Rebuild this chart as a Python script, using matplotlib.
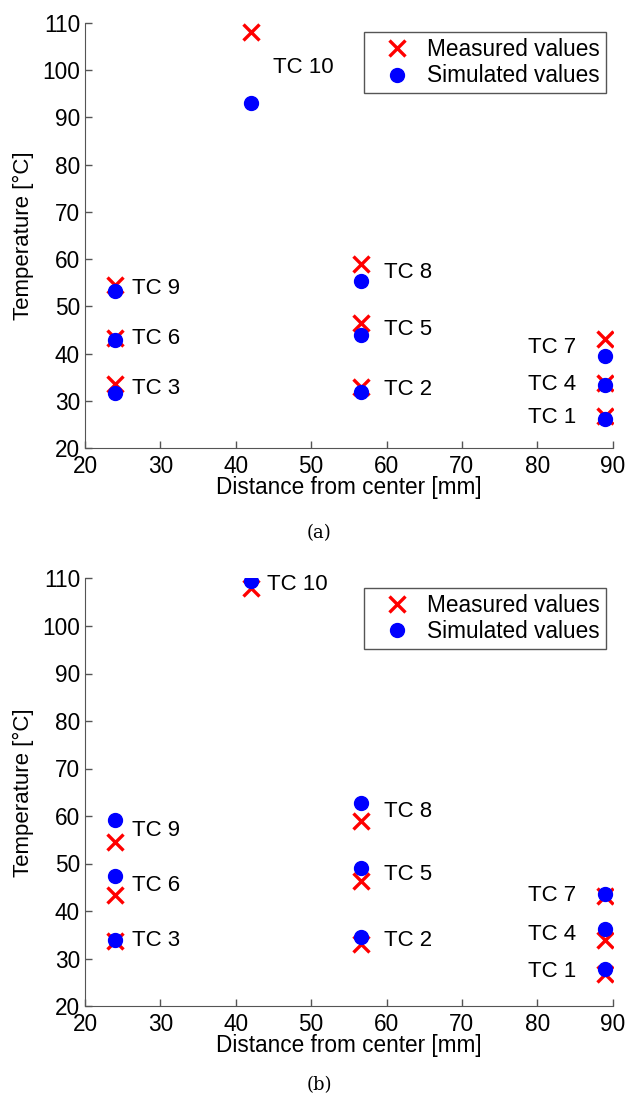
import numpy as np
import matplotlib
matplotlib.use('Agg')
from matplotlib import pyplot as plt

# =============================================================================
# DATA
# =============================================================================
tc_names = ['TC 1', 'TC 2', 'TC 3', 'TC 4', 'TC 5', 'TC 6', 'TC 7', 'TC 8', 'TC 9', 'TC 10']
distance = [89, 56.6, 24, 89, 56.6, 24, 89, 56.6, 24, 42]  # mm
measured = [26.8, 33.0, 33.6, 33.8, 46.4, 43.4, 43.1, 59.0, 54.5, 108.0]
simulated_a = [26.2, 31.8, 31.6, 33.3, 43.9, 42.8, 39.5, 55.4, 53.2, 93.1]
simulated_b = [27.8, 34.5, 34.0, 36.2, 49.0, 47.3, 43.6, 62.8, 59.2, 109.4]

xticks = [20, 30, 40, 50, 60, 70, 80, 90]
yticks = [20, 30, 40, 50, 60, 70, 80, 90, 100, 110]

plt.rcParams['font.family'] = ['Liberation Sans', 'DejaVu Sans']

W, H = 627, 1101
fig = plt.figure(figsize=(W/100, H/100), dpi=100)

def label_offset(name, x, panel):
    # horizontal offset of the TC label from its marker, in pixels
    if x > 80:
        return -29
    if name == 'TC 10':
        return 22 if panel == 'a' else 16
    if x > 50:
        return 23
    return 17

def draw_panel(ax, sim, panel, cap_y):
    ax.plot(distance, measured, 'x', color='#ff0000', ms=12, mew=2.4, ls='none', label='Measured values')
    ax.plot(distance, sim, 'o', color='#0000ff', ms=10, ls='none', label='Simulated values')
    for name, x, m, s in zip(tc_names, distance, measured, sim):
        y = (m + s) / 2.0
        dx = label_offset(name, x, panel)
        ax.annotate(name, (x, y), xytext=(dx, 0), textcoords='offset pixels',
                    ha='right' if dx < 0 else 'left', va='center', fontsize=16)
    ax.set_xlim(20, 90)
    ax.set_ylim(20, 110)
    ax.set_xticks(xticks)
    ax.set_yticks(yticks)
    ax.tick_params(direction='in', length=5, width=1, labelsize=16.3, colors='#555555',
                   labelcolor='black')
    ax.tick_params(axis='x', pad=4.8)
    ax.tick_params(axis='y', pad=3.6)
    for side in ['top', 'right']:
        ax.spines[side].set_visible(False)
    for side in ['left', 'bottom']:
        ax.spines[side].set_color('#555555')
    ax.set_xlabel('Distance from center [mm]', fontsize=16.3, labelpad=-1.5)
    ax.set_ylabel('Temperature [°C]', fontsize=16, labelpad=6)
    leg = ax.legend(loc='upper right', bbox_to_anchor=(1 - 7/527.7, 1 - 9.5/427.5), fontsize=16.3,
                    fancybox=False, edgecolor='#555555', framealpha=1, borderaxespad=0,
                    handletextpad=0.1, borderpad=0.25, labelspacing=0.15, handlelength=2.45)
    leg.get_frame().set_linewidth(1.0)
    fig.text(319/W, cap_y, '(' + panel + ')', ha='center', va='center', fontsize=13,
             family='DejaVu Serif')

ax1 = fig.add_axes([85/W, 1-448/H, (612.7-85)/W, (448-23)/H])
draw_panel(ax1, simulated_a, 'a', 1-533/H)

ax2 = fig.add_axes([85/W, 1-1006/H, (612.7-85)/W, (1006-578.5)/H])
draw_panel(ax2, simulated_b, 'b', 1-1085/H)

fig.savefig('out.png', dpi=100)
